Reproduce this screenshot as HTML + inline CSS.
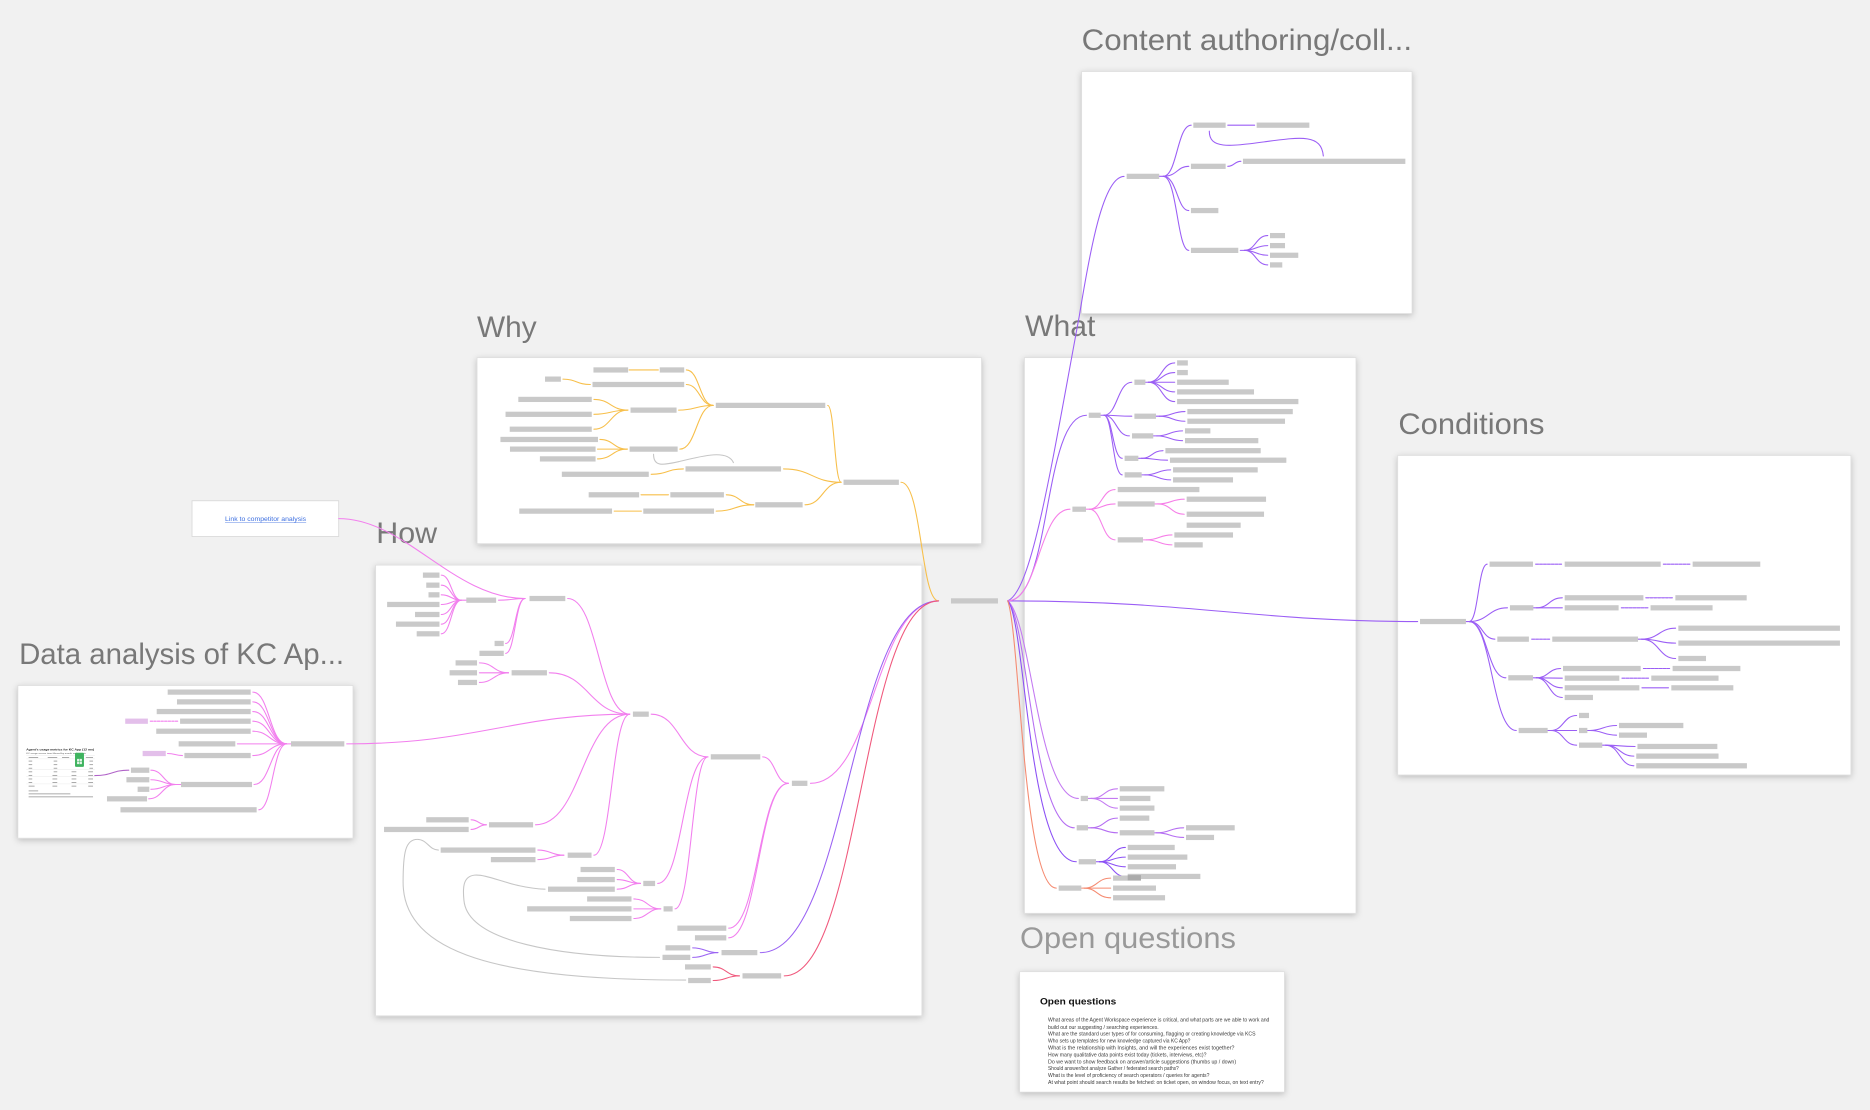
<!DOCTYPE html>
<html><head><meta charset="utf-8"><style>
html,body{margin:0;padding:0;background:#f1f1f1;overflow:hidden;}
svg{display:block}
</style></head><body>
<svg width="1870" height="1110" viewBox="0 0 1568 931" preserveAspectRatio="none" xmlns="http://www.w3.org/2000/svg">
<defs>
<filter id="sh" x="-10%" y="-10%" width="120%" height="125%"><feDropShadow dx="0" dy="1.5" stdDeviation="2.6" flood-color="#000" flood-opacity="0.22"/></filter>
</defs>
<rect width="1568" height="931" fill="#f1f1f1"/>

<!-- Titles -->
<g font-family="'Liberation Sans', sans-serif" font-size="25" fill="#787878">
<text x="907" y="42" textLength="277" lengthAdjust="spacingAndGlyphs">Content authoring/coll...</text>
<text x="400" y="282.6" textLength="50" lengthAdjust="spacingAndGlyphs">Why</text>
<text x="315.5" y="455.3" textLength="51" lengthAdjust="spacingAndGlyphs">How</text>
<text x="859.5" y="281.7" textLength="59" lengthAdjust="spacingAndGlyphs">What</text>
<text x="1172.5" y="364" textLength="122.5" lengthAdjust="spacingAndGlyphs">Conditions</text>
<text x="16" y="556.8" textLength="272.5" lengthAdjust="spacingAndGlyphs">Data analysis of KC Ap...</text>
<text x="855.3" y="795.2" textLength="181" lengthAdjust="spacingAndGlyphs" fill="#999">Open questions</text>
</g>

<!-- Frames -->
<g fill="#fff" stroke="#dcdcdc" stroke-width="0.6" filter="url(#sh)">
<rect x="907" y="60" width="277" height="203"/>
<rect x="400" y="300" width="423" height="156"/>
<rect x="859" y="300" width="278" height="466"/>
<rect x="1172" y="382" width="380" height="268"/>
<rect x="315" y="474" width="458" height="378"/>
<rect x="15" y="575" width="281" height="128"/>
<rect x="855" y="815" width="222" height="101"/>
</g>
<rect x="161" y="420" width="123" height="30" fill="#fff" stroke="#d8d8d8" stroke-width="0.7"/>
<text x="188.7" y="437" font-family="'Liberation Sans', sans-serif" font-size="5.5" fill="#3d6fe0" textLength="68" lengthAdjust="spacingAndGlyphs">Link to competitor analysis</text>
<line x1="188.7" y1="438.4" x2="256.7" y2="438.4" stroke="#3d6fe0" stroke-width="0.35"/>

<!-- Open questions content -->
<g font-family="'Liberation Sans', sans-serif" fill="#3a3a3a">
<text x="872" y="842.5" font-size="7.4" font-weight="bold" fill="#111" textLength="64" lengthAdjust="spacingAndGlyphs">Open questions</text>
<g font-size="4.3">
<text x="878.8" y="856.8" textLength="185.6" lengthAdjust="spacingAndGlyphs">What areas of the Agent Workspace experience is critical, and what parts are we able to work and</text>
<text x="878.8" y="862.9" textLength="92.8" lengthAdjust="spacingAndGlyphs">build out our suggesting / searching experiences.</text>
<text x="878.8" y="868.5" textLength="174" lengthAdjust="spacingAndGlyphs">What are the standard user types of for consuming, flagging or creating knowledge via KCS</text>
<text x="878.8" y="874.4" textLength="119.4" lengthAdjust="spacingAndGlyphs">Who sets up templates for new knowledge captured via KC App?</text>
<text x="878.8" y="880.3" textLength="156.3" lengthAdjust="spacingAndGlyphs">What is the relationship with Insights, and will the experiences exist together?</text>
<text x="878.8" y="886.1" textLength="132.8" lengthAdjust="spacingAndGlyphs">How many qualitative data points exist today (tickets, interviews, etc)?</text>
<text x="878.8" y="892" textLength="157.7" lengthAdjust="spacingAndGlyphs">Do we want to show feedback on answer/article suggestions (thumbs up / down)</text>
<text x="878.8" y="897.6" textLength="109.6" lengthAdjust="spacingAndGlyphs">Should answer/bot analyze Gather / federated search paths?</text>
<text x="878.8" y="903.5" textLength="135.3" lengthAdjust="spacingAndGlyphs">What is the level of proficiency of search operators / queries for agents?</text>
<text x="878.8" y="909.3" textLength="180.9" lengthAdjust="spacingAndGlyphs">At what point should search results be fetched: on ticket open, on window focus, on text entry?</text>
</g>
</g>

<!-- Spreadsheet thumbnail -->
<g>
<text x="22" y="629.6" font-family="'Liberation Sans', sans-serif" font-size="2.4" font-weight="bold" fill="#222" textLength="57" lengthAdjust="spacingAndGlyphs">Agent's usage metrics for KC App (12 mo)</text>
<text x="22" y="632.6" font-family="'Liberation Sans', sans-serif" font-size="1.7" fill="#555" textLength="50" lengthAdjust="spacingAndGlyphs">KC usage across time filtered by month and agents</text>
<g fill="#9a9a9a">
<rect x="24" y="635" width="8" height="0.7"/><rect x="40" y="635" width="8" height="0.7"/><rect x="52" y="635" width="6" height="0.7"/><rect x="72" y="635" width="6" height="0.7"/>
<rect x="24" y="638" width="3" height="0.7"/><rect x="45" y="638" width="3" height="0.7"/><rect x="75" y="638" width="3" height="0.7"/>
<rect x="24" y="641" width="3" height="0.7"/><rect x="45" y="641" width="3" height="0.7"/><rect x="75" y="641" width="3" height="0.7"/>
<rect x="24" y="644" width="3" height="0.7"/><rect x="45" y="644" width="3" height="0.7"/><rect x="75" y="644" width="3" height="0.7"/>
<rect x="24" y="647" width="3" height="0.7"/><rect x="45" y="647" width="3" height="0.7"/><rect x="60" y="647" width="4" height="0.7"/><rect x="74" y="647" width="4" height="0.7"/>
<rect x="24" y="650" width="3" height="0.7"/><rect x="44" y="650" width="4" height="0.7"/><rect x="60" y="650" width="4" height="0.7"/><rect x="74" y="650" width="4" height="0.7"/>
<rect x="24" y="653" width="3" height="0.7"/><rect x="44" y="653" width="4" height="0.7"/><rect x="60" y="653" width="4" height="0.7"/><rect x="74" y="653" width="4" height="0.7"/>
<rect x="24" y="656" width="3" height="0.7"/><rect x="44" y="656" width="4" height="0.7"/><rect x="60" y="656" width="4" height="0.7"/><rect x="74" y="656" width="4" height="0.7"/>
<rect x="24" y="659" width="5" height="0.7"/><rect x="44" y="659" width="4" height="0.7"/><rect x="60" y="659" width="4" height="0.7"/><rect x="74" y="659" width="4" height="0.7"/>
<rect x="24" y="663" width="8" height="0.7"/>
<rect x="24" y="665.5" width="35" height="0.7"/>
<rect x="24" y="668" width="54" height="0.7"/>
</g>
<g stroke="#e2e2e2" stroke-width="0.3">
<line x1="22" y1="633.8" x2="79.5" y2="633.8"/><line x1="22" y1="636.5" x2="79.5" y2="636.5"/>
<line x1="22" y1="645.5" x2="79.5" y2="645.5"/><line x1="22" y1="651.5" x2="79.5" y2="651.5"/>
<line x1="22" y1="657.5" x2="79.5" y2="657.5"/>
</g>
<rect x="62.9" y="631.4" width="7.5" height="11.8" rx="0.8" fill="#3fb35f"/>
<rect x="64.6" y="636.5" width="4.1" height="4.4" fill="#fff" opacity="0.85"/>
<line x1="64.6" y1="638.7" x2="68.7" y2="638.7" stroke="#3fb35f" stroke-width="0.4"/>
<line x1="66.6" y1="636.5" x2="66.6" y2="640.9" stroke="#3fb35f" stroke-width="0.4"/>
</g>

<!-- Connector lines -->
<g fill="none" stroke-width="0.9" stroke-linecap="round">
<!-- Why (yellow) -->
<g stroke="#f7bf4a">
<path d="M527.5 310.3 L552 310.3"/>
<path d="M472 318 C483.5 318 483.5 322.5 495 322.5"/>
<path d="M498 335 C512 335 512 344 526.5 344"/>
<path d="M498 347.5 C512 347.5 512 344 526.5 344"/>
<path d="M498 360 C512 360 512 344 526.5 344"/>
<path d="M569 344 C583.5 344 583.5 340 598 340"/>
<path d="M503 368.6 C514.5 368.6 514.5 376.7 526 376.7"/>
<path d="M501 376.7 L526 376.7"/>
<path d="M501 384.9 C513.5 384.9 513.5 376.7 526 376.7"/>
<path d="M570 376.7 C584 376.7 584 340 598 340"/>
<path d="M575.5 310.3 C586.7 310.3 586.7 340 598 340"/>
<path d="M575.5 322.5 C586.7 322.5 586.7 340 598 340"/>
<path d="M694 340 C699.7 340 699.7 404.5 705.3 404.5"/>
<path d="M546 397.8 C559.5 397.8 559.5 393.3 573 393.3"/>
<path d="M657 393.3 C681 393.3 681 404.5 705.3 404.5"/>
<path d="M537.5 415 L560.5 415"/>
<path d="M515 428.7 L537.8 428.7"/>
<path d="M609 415 C620.5 415 620.5 423.4 632 423.4"/>
<path d="M600.5 428.7 C616 428.7 616 423.4 632 423.4"/>
<path d="M675 423.4 C690 423.4 690 404.5 705.3 404.5"/>
<path d="M755.5 404.5 C773 404.5 772 504 787 504"/>
</g>
<!-- Gray loops -->
<g stroke="#c6c6c6">
<path d="M548 381 C548 392 556 390 570 387 C590 382 610 377 615 388"/>
<path d="M367.6 713 C360 713 358 704 350 704 C340 704 338 715 338 740 C338 800 420 822 575 822"/>
<path d="M457 745.8 C430 745 410 733 398 734 C388 735 388 745 389 755 C392 790 470 803 553 803"/>
</g>
<!-- How & Data (pink) -->
<g stroke="#f27fee">
<path d="M370 482.4 C378.4 482.4 378.4 503.4 386.8 503.4"/>
<path d="M370 490.8 C378.4 490.8 378.4 503.4 386.8 503.4"/>
<path d="M370 498.9 C378.4 498.9 378.4 503.4 386.8 503.4"/>
<path d="M370 507 C378.4 507 378.4 503.4 386.8 503.4"/>
<path d="M370 515.4 C378.4 515.4 378.4 503.4 386.8 503.4"/>
<path d="M370 523.5 C378.4 523.5 378.4 503.4 386.8 503.4"/>
<path d="M370 531.6 C378.4 531.6 378.4 503.4 386.8 503.4"/>
<path d="M386.8 503.4 L391 503.4"/>
<path d="M418 503.4 C429 503.4 429 502 440.3 502"/>
<path d="M424 539.7 C432 539.7 432 502 440.3 502"/>
<path d="M424 548 C432 548 432 502 440.3 502"/>
<path d="M284 435 C340 435 380 502 440.3 502"/>
<path d="M476 502 C502 502 502 599 528 599"/>
<path d="M402 556 C414 556 414 564.3 426.4 564.3"/>
<path d="M402 564.3 L426.4 564.3"/>
<path d="M402 572.4 C414 572.4 414 564.3 426.4 564.3"/>
<path d="M460.6 564.3 C494 564.3 494 599 528 599"/>
<path d="M290.7 623.9 C400 623.9 430 599 528 599"/>
<path d="M395 687.6 C401.4 687.6 401.4 691.8 407.8 691.8"/>
<path d="M395 695.7 C401.4 695.7 401.4 691.8 407.8 691.8"/>
<path d="M449 691.8 C488 691.8 488 599 528 599"/>
<path d="M451 713 C462 713 462 717.3 472.8 717.3"/>
<path d="M451 721 C462 721 462 717.3 472.8 717.3"/>
<path d="M498 717.3 C513 717.3 513 599 528 599"/>
<path d="M546 599 C570 599 570 634.8 593.6 634.8"/>
<path d="M517.5 729.3 C527 729.3 527 741 537 741"/>
<path d="M517.5 737.7 C527 737.7 527 741 537 741"/>
<path d="M517.5 745.8 C527 745.8 527 741 537 741"/>
<path d="M551.5 741 C572.5 741 572.5 634.8 593.6 634.8"/>
<path d="M531.5 754 C543 754 543 762.3 554 762.3"/>
<path d="M531.5 762.3 L554 762.3"/>
<path d="M531.5 770.4 C543 770.4 543 762.3 554 762.3"/>
<path d="M566 762.3 C580 762.3 580 634.8 593.6 634.8"/>
<path d="M639.5 634.8 C650 634.8 650 657 661 657"/>
<path d="M611 778.5 C636 778.5 636 657 661 657"/>
<path d="M611 786.6 C636 786.6 636 657 661 657"/>
<path d="M679.6 657 C733 657 733 504 787 504"/>
<!-- Data -->
<path d="M212 580.5 C226 580.5 226 623.9 240.4 623.9"/>
<path d="M212 588.7 C226 588.7 226 623.9 240.4 623.9"/>
<path d="M212 596.8 C226 596.8 226 623.9 240.4 623.9"/>
<path d="M212 604.9 C226 604.9 226 623.9 240.4 623.9"/>
<path d="M212 613.3 C226 613.3 226 623.9 240.4 623.9"/>
<path d="M199 623.9 L244 623.9"/>
<path d="M212 633.7 C226 633.7 226 623.9 240.4 623.9"/>
<path d="M213 658 C226.7 658 226.7 623.9 240.4 623.9"/>
<path d="M217 679.2 C228.7 679.2 228.7 623.9 240.4 623.9"/>
<path d="M126 604.9 L149 604.9" stroke-dasharray="2 1"/>
<path d="M140.5 632 C146.8 632 146.8 633.7 153 633.7"/>
<path d="M126.5 646 C137 646 137 658 147.3 658"/>
<path d="M126.5 654 C137 654 137 658 147.3 658"/>
<path d="M126.5 662 C137 662 137 658 147.3 658"/>
<path d="M124.7 670 C136 670 136 658 147.3 658"/>
<path d="M147.3 658 L151.8 658"/>
</g>
<path d="M79.5 650.5 C94 650.5 94 646 108 646" stroke="#b062c8"/>
<!-- How purple & red -->
<g stroke="#9a62f3">
<path d="M580.8 795 C591.4 795 591.4 799 602 799"/>
<path d="M580.8 803 C591.4 803 591.4 799 602 799"/>
<path d="M637.5 799 C712 799 712 504 787 504"/>
</g>
<g stroke="#f0587c">
<path d="M598 811 C609 811 609 818.5 620 818.5"/>
<path d="M598 822.4 C609 822.4 609 818.5 620 818.5"/>
<path d="M657.6 818.5 C722 818.5 722 504 787 504"/>
</g>
<!-- Content / What / Conditions (purple) -->
<g stroke="#9b5ef5">
<path d="M845 504 C865 495 880 400 905 265 C914 210 925 148 942.5 148"/>
<path d="M972 147.9 L975.4 147.9"/>
<path d="M975.4 147.9 C987 147.9 987 105 998.8 105"/>
<path d="M975.4 147.9 C987 147.9 987 139.5 996.8 139.5"/>
<path d="M975.4 147.9 C987 147.9 987 176.6 996.8 176.6"/>
<path d="M975.4 147.9 C987 147.9 987 210 996.8 210"/>
<path d="M1029.5 105 L1052 105"/>
<path d="M1029.5 139.5 C1035 139.5 1035 135.3 1040.5 135.3"/>
<path d="M1014 110 C1014 125 1030 123 1060 119 C1090 115 1108 112 1109.6 130.8"/>
<path d="M1040 210 L1043.4 210"/>
<path d="M1043.4 210 C1053 210 1053 197.6 1063 197.6"/>
<path d="M1043.4 210 C1053 210 1053 206 1063 206"/>
<path d="M1043.4 210 C1053 210 1053 214.1 1063 214.1"/>
<path d="M1043.4 210 C1053 210 1053 222.2 1063 222.2"/>
<!-- What top -->
<path d="M845 504 C882 504 874 348.3 911 348.3"/>
<path d="M922.9 348.3 L925.7 348.3"/>
<path d="M925.7 348.3 C937 348.3 937 320.6 949 320.6"/>
<path d="M925.7 348.3 C937 348.3 937 349.1 949 349.1"/>
<path d="M925.7 348.3 C936 348.3 936 365.6 947 365.6"/>
<path d="M925.7 348.3 C933 348.3 933 384.4 941 384.4"/>
<path d="M925.7 348.3 C933 348.3 933 398.3 941 398.3"/>
<path d="M960.4 320.6 L962.9 320.6"/>
<path d="M962.9 320.6 C974 320.6 974 304.4 985 304.4"/>
<path d="M962.9 320.6 C974 320.6 974 312.5 985 312.5"/>
<path d="M962.9 320.6 L985 320.6"/>
<path d="M962.9 320.6 C974 320.6 974 328.7 985 328.7"/>
<path d="M962.9 320.6 C974 320.6 974 336.8 985 336.8"/>
<path d="M969.3 349.1 L972 349.1"/>
<path d="M972 349.1 C982.8 349.1 982.8 345.2 993.6 345.2"/>
<path d="M972 349.1 C982.8 349.1 982.8 353.3 993.6 353.3"/>
<path d="M967 365.6 L970 365.6"/>
<path d="M970 365.6 C980.8 365.6 980.8 361.4 991.6 361.4"/>
<path d="M970 365.6 C980.8 365.6 980.8 369.6 991.6 369.6"/>
<path d="M954.5 384.4 L957.3 384.4"/>
<path d="M957.3 384.4 C966 384.4 966 378 975.2 378"/>
<path d="M957.3 384.4 C968 384.4 968 386 979 386"/>
<path d="M957.3 398.3 L960 398.3"/>
<path d="M960 398.3 C970.8 398.3 970.8 394.1 981.6 394.1"/>
<path d="M960 398.3 C970.8 398.3 970.8 402.5 981.6 402.5"/>
<!-- Conditions -->
<path d="M845 504 C1000 504 1050 521.3 1188.7 521.3"/>
<path d="M1229.2 521.3 L1232 521.3"/>
<path d="M1232 521.3 C1239.5 521.3 1239.5 473.2 1247 473.2"/>
<path d="M1232 521.3 C1248 521.3 1248 509.8 1264 509.8"/>
<path d="M1232 521.3 C1243 521.3 1243 536.1 1253.5 536.1"/>
<path d="M1232 521.3 C1247 521.3 1247 568.5 1262.7 568.5"/>
<path d="M1232 521.3 C1251 521.3 1251 612.7 1271.4 612.7"/>
<path d="M1287.6 473.2 L1309.4 473.2" stroke-dasharray="2.5 0.8"/>
<path d="M1394.7 473.2 L1417 473.2" stroke-dasharray="2.5 0.8"/>
<path d="M1285.7 509.8 L1288.5 509.8"/>
<path d="M1288.5 509.8 C1299 509.8 1299 501.4 1310 501.4"/>
<path d="M1288.5 509.8 L1310 509.8"/>
<path d="M1380 501.4 L1402.5 501.4" stroke-dasharray="2.5 0.8"/>
<path d="M1359.5 509.8 L1382 509.8" stroke-dasharray="2.5 0.8"/>
<path d="M1284.3 536.1 L1299.4 536.1" stroke-dasharray="2.5 0.8"/>
<path d="M1373.5 536.1 L1376.5 536.1"/>
<path d="M1376.5 536.1 C1391 536.1 1391 526.9 1405 526.9"/>
<path d="M1376.5 536.1 C1391 536.1 1391 539.4 1405 539.4"/>
<path d="M1376.5 536.1 C1391 536.1 1391 552.3 1405 552.3"/>
<path d="M1285.4 568.5 L1288.2 568.5"/>
<path d="M1288.2 568.5 C1298.4 568.5 1298.4 560.7 1308.6 560.7"/>
<path d="M1288.2 568.5 L1310 568.8"/>
<path d="M1288.2 568.5 C1299 568.5 1299 576.9 1310 576.9"/>
<path d="M1288.2 568.5 C1299 568.5 1299 585 1310 585"/>
<path d="M1378 560.7 L1400 560.7" stroke-dasharray="2.5 0.8"/>
<path d="M1360 568.8 L1382.5 568.8" stroke-dasharray="2.5 0.8"/>
<path d="M1376.8 576.9 L1399 576.9"/>
<path d="M1297.7 612.7 L1300.5 612.7"/>
<path d="M1300.5 612.7 C1311 612.7 1311 600.1 1322 600.1"/>
<path d="M1300.5 612.7 L1322 612.7"/>
<path d="M1300.5 612.7 C1311 612.7 1311 625 1322 625"/>
<path d="M1331 612.7 L1333.2 612.7"/>
<path d="M1333.2 612.7 C1344 612.7 1344 608.5 1355.5 608.5"/>
<path d="M1333.2 612.7 C1344 612.7 1344 616.6 1355.5 616.6"/>
<path d="M1343.5 625 L1346.3 625"/>
<path d="M1346.3 625 C1358 625 1358 626.1 1371 626.1"/>
<path d="M1346.3 625 C1358 625 1358 634.2 1370 634.2"/>
<path d="M1346.3 625 C1358 625 1358 642.3 1370 642.3"/>
</g>
<!-- What pink -->
<g stroke="#f67fe8">
<path d="M845 504 C871 504 871 427.1 897.2 427.1"/>
<path d="M910.6 427.1 L913.4 427.1"/>
<path d="M913.4 427.1 C924 427.1 924 410.6 935 410.6"/>
<path d="M913.4 427.1 C924 427.1 924 422.7 935 422.7"/>
<path d="M913.4 427.1 C924 427.1 924 452.8 935 452.8"/>
<path d="M968.2 422.7 L970.7 422.7"/>
<path d="M970.7 422.7 C982 422.7 982 418.7 993 418.7"/>
<path d="M970.7 422.7 C982 422.7 982 431.3 993 431.3"/>
<path d="M958.4 452.8 L961 452.8"/>
<path d="M961 452.8 C972 452.8 972 448.7 982.7 448.7"/>
<path d="M961 452.8 C972 452.8 972 457 982.7 457"/>
</g>
<!-- What bottom -->
<g stroke="#c47af2">
<path d="M845 504 C865 520 870 669.7 904.2 669.7"/>
<path d="M912.3 669.7 L914.8 669.7"/>
<path d="M914.8 669.7 C926 669.7 926 661.6 937 661.6"/>
<path d="M914.8 669.7 L937 669.7"/>
<path d="M914.8 669.7 C926 669.7 926 677.8 937 677.8"/>
</g>
<g stroke="#b56ef2">
<path d="M845 504 C862 520 866 694.3 900.8 694.3"/>
<path d="M912.3 694.3 L914.8 694.3"/>
<path d="M914.8 694.3 C926 694.3 926 686.2 937 686.2"/>
<path d="M914.8 694.3 C926 694.3 926 698.5 937 698.5"/>
<path d="M968 698.5 L969.9 698.5"/>
<path d="M969.9 698.5 C981 698.5 981 694.3 992.5 694.3"/>
<path d="M969.9 698.5 C981 698.5 981 702.4 992.5 702.4"/>
</g>
<g stroke="#8b4ff5">
<path d="M845 504 C860 520 862 722.8 902.5 722.8"/>
<path d="M919 722.8 L921.8 722.8"/>
<path d="M921.8 722.8 C932.7 722.8 932.7 710.8 943.6 710.8"/>
<path d="M921.8 722.8 C932.7 722.8 932.7 718.9 943.6 718.9"/>
<path d="M921.8 722.8 C932.7 722.8 932.7 727 943.6 727"/>
<path d="M921.8 722.8 C932.7 722.8 932.7 735.1 943.6 735.1"/>
</g>
<g stroke="#f58a70">
<path d="M845 504 C855 530 858 744.9 885.7 744.9"/>
<path d="M906.7 744.9 L909 744.9"/>
<path d="M909 744.9 C920 744.9 920 736.5 931.3 736.5"/>
<path d="M909 744.9 L931.3 744.9"/>
<path d="M909 744.9 C920 744.9 920 753 931.3 753"/>
</g>
</g>

<!-- Node bars -->
<g fill="#c9c9c9">
<!-- center -->
<rect x="797.4" y="501.8" width="39.4" height="4.4"/>
<!-- Why -->
<rect x="497.6" y="308.1" width="29.1" height="4.4"/>
<rect x="553.2" y="308.1" width="20.5" height="4.4"/>
<rect x="457" y="315.8" width="13.3" height="4.4"/>
<rect x="496.8" y="320.3" width="76.9" height="4.4"/>
<rect x="434.6" y="332.8" width="61.6" height="4.4"/>
<rect x="423.9" y="345.3" width="72.3" height="4.4"/>
<rect x="427.4" y="357.8" width="68.8" height="4.4"/>
<rect x="528.7" y="341.8" width="38.6" height="4.4"/>
<rect x="419.6" y="366.4" width="81.8" height="4.4"/>
<rect x="427.6" y="374.5" width="71.8" height="4.4"/>
<rect x="452.7" y="382.7" width="46.7" height="4.4"/>
<rect x="527.9" y="374.5" width="40.3" height="4.4"/>
<rect x="600.2" y="337.8" width="91.8" height="4.4"/>
<rect x="471.1" y="395.6" width="72.9" height="4.4"/>
<rect x="574.8" y="391.1" width="80.1" height="4.4"/>
<rect x="707.3" y="402.3" width="46.4" height="4.4"/>
<rect x="493.6" y="412.8" width="42.3" height="4.4"/>
<rect x="562.1" y="412.8" width="44.9" height="4.4"/>
<rect x="435.4" y="426.5" width="77.8" height="4.4"/>
<rect x="539.4" y="426.5" width="59.3" height="4.4"/>
<rect x="633.3" y="421.2" width="39.7" height="4.4"/>
<!-- How -->
<rect x="354.6" y="480.2" width="13.9" height="4.4"/>
<rect x="357.4" y="488.6" width="11.1" height="4.4"/>
<rect x="359.3" y="496.7" width="9.2" height="4.4"/>
<rect x="324.6" y="504.8" width="43.9" height="4.4"/>
<rect x="348" y="513.2" width="20.5" height="4.4"/>
<rect x="332" y="521.3" width="36.5" height="4.4"/>
<rect x="349.4" y="529.4" width="19.1" height="4.4"/>
<rect x="391" y="501.2" width="25" height="4.4"/>
<rect x="444" y="499.8" width="30" height="4.4"/>
<rect x="414.7" y="537.5" width="7.7" height="4.4"/>
<rect x="402" y="545.8" width="20.4" height="4.4"/>
<rect x="382" y="553.8" width="18" height="4.4"/>
<rect x="377" y="562.1" width="23" height="4.4"/>
<rect x="384" y="570.2" width="16" height="4.4"/>
<rect x="429" y="562.1" width="29.6" height="4.4"/>
<rect x="530.7" y="596.8" width="13.3" height="4.4"/>
<rect x="596" y="632.6" width="41.5" height="4.4"/>
<rect x="664" y="654.8" width="13" height="4.4"/>
<rect x="357.4" y="685.4" width="35.6" height="4.4"/>
<rect x="322" y="693.5" width="71" height="4.4"/>
<rect x="410" y="689.6" width="37" height="4.4"/>
<rect x="369.5" y="710.8" width="79.5" height="4.4"/>
<rect x="411.6" y="718.8" width="37.4" height="4.4"/>
<rect x="476" y="715.1" width="20" height="4.4"/>
<rect x="486.8" y="727.1" width="28.7" height="4.4"/>
<rect x="484" y="735.5" width="31.5" height="4.4"/>
<rect x="459.5" y="743.6" width="56" height="4.4"/>
<rect x="539.4" y="738.8" width="9.9" height="4.4"/>
<rect x="492.3" y="751.8" width="37.2" height="4.4"/>
<rect x="442" y="760.1" width="87.5" height="4.4"/>
<rect x="477.8" y="768.2" width="51.7" height="4.4"/>
<rect x="556.4" y="760.1" width="7.6" height="4.4"/>
<rect x="568" y="776.3" width="41" height="4.4"/>
<rect x="582.7" y="784.4" width="26.3" height="4.4"/>
<rect x="558" y="792.8" width="20.8" height="4.4"/>
<rect x="555.5" y="800.8" width="23.3" height="4.4"/>
<rect x="605" y="796.8" width="30" height="4.4"/>
<rect x="574.4" y="808.8" width="21.6" height="4.4"/>
<rect x="577" y="820.2" width="19" height="4.4"/>
<rect x="622.6" y="816.3" width="32.4" height="4.4"/>
<!-- Data -->
<rect x="140.6" y="578.3" width="69.6" height="4.4"/>
<rect x="148.4" y="586.5" width="61.8" height="4.4"/>
<rect x="131.4" y="594.6" width="78.8" height="4.4"/>
<rect x="151" y="602.7" width="59.2" height="4.4"/>
<rect x="131" y="611.1" width="79.2" height="4.4"/>
<rect x="149.8" y="621.7" width="47.5" height="4.4"/>
<rect x="154.6" y="631.5" width="55.6" height="4.4"/>
<rect x="109.8" y="643.8" width="15.4" height="4.4"/>
<rect x="106" y="651.8" width="19.2" height="4.4"/>
<rect x="115.4" y="659.8" width="9.8" height="4.4"/>
<rect x="89.7" y="667.8" width="33.6" height="4.4"/>
<rect x="151.8" y="655.8" width="59.5" height="4.4"/>
<rect x="101" y="677" width="114.2" height="4.4"/>
<rect x="244" y="621.7" width="44.7" height="4.4"/>
<!-- Content -->
<rect x="944.7" y="145.7" width="27.3" height="4.4"/>
<rect x="1000.6" y="102.8" width="27.1" height="4.4"/>
<rect x="1053.7" y="102.8" width="44.2" height="4.4"/>
<rect x="998.6" y="137.3" width="29.1" height="4.4"/>
<rect x="1042.2" y="133.1" width="136.2" height="4.4"/>
<rect x="998.6" y="174.4" width="23" height="4.4"/>
<rect x="998.6" y="207.8" width="39.7" height="4.4"/>
<rect x="1064.9" y="195.4" width="12.6" height="4.4"/>
<rect x="1064.9" y="203.8" width="12.6" height="4.4"/>
<rect x="1064.9" y="211.9" width="23.7" height="4.4"/>
<rect x="1064.9" y="220" width="10.3" height="4.4"/>
<!-- What -->
<rect x="912.9" y="346.1" width="10" height="4.4"/>
<rect x="951.2" y="318.4" width="9.2" height="4.4"/>
<rect x="987" y="302.2" width="9" height="4.4"/>
<rect x="987" y="310.3" width="9" height="4.4"/>
<rect x="987" y="318.4" width="43.3" height="4.4"/>
<rect x="987" y="326.5" width="64.5" height="4.4"/>
<rect x="987" y="334.6" width="101.7" height="4.4"/>
<rect x="951.2" y="346.9" width="18.1" height="4.4"/>
<rect x="995.6" y="343" width="88.4" height="4.4"/>
<rect x="995.6" y="351.1" width="81.9" height="4.4"/>
<rect x="949.2" y="363.4" width="17.8" height="4.4"/>
<rect x="993.6" y="359.2" width="21.3" height="4.4"/>
<rect x="993.6" y="367.4" width="61.5" height="4.4"/>
<rect x="943" y="382.2" width="11.5" height="4.4"/>
<rect x="977.2" y="375.8" width="79.9" height="4.4"/>
<rect x="981" y="383.8" width="97.6" height="4.4"/>
<rect x="943" y="396.1" width="14.3" height="4.4"/>
<rect x="983.6" y="391.9" width="71" height="4.4"/>
<rect x="983.6" y="400.3" width="50.3" height="4.4"/>
<rect x="899.2" y="424.9" width="11.4" height="4.4"/>
<rect x="937.2" y="408.4" width="68.5" height="4.4"/>
<rect x="937.2" y="420.5" width="31" height="4.4"/>
<rect x="995" y="416.5" width="66.6" height="4.4"/>
<rect x="995" y="429.1" width="64.9" height="4.4"/>
<rect x="995" y="438.3" width="45.3" height="4.4"/>
<rect x="937.2" y="450.6" width="21.2" height="4.4"/>
<rect x="984.7" y="446.5" width="49.2" height="4.4"/>
<rect x="984.7" y="454.8" width="23.8" height="4.4"/>
<rect x="906.2" y="667.5" width="6.1" height="4.4"/>
<rect x="938.9" y="659.4" width="37.4" height="4.4"/>
<rect x="938.9" y="667.5" width="25.7" height="4.4"/>
<rect x="938.9" y="675.6" width="29.1" height="4.4"/>
<rect x="902.8" y="692.1" width="9.5" height="4.4"/>
<rect x="938.9" y="684" width="24.8" height="4.4"/>
<rect x="938.9" y="696.3" width="29.1" height="4.4"/>
<rect x="994.5" y="692.1" width="40.8" height="4.4"/>
<rect x="994.5" y="700.2" width="23.5" height="4.4"/>
<rect x="904.5" y="720.6" width="14.5" height="4.4"/>
<rect x="945.6" y="708.6" width="39.4" height="4.4"/>
<rect x="945.6" y="716.7" width="50" height="4.4"/>
<rect x="945.6" y="724.8" width="40.5" height="4.4"/>
<rect x="945.6" y="732.9" width="60.9" height="4.4"/>
<rect x="887.7" y="742.7" width="19" height="4.4"/>
<rect x="933.3" y="734.3" width="23.4" height="4.4"/>
<rect x="933.3" y="742.7" width="36" height="4.4"/>
<rect x="933.3" y="750.8" width="43.6" height="4.4"/>
<!-- Conditions -->
<rect x="1190.7" y="519.1" width="38.5" height="4.4"/>
<rect x="1249" y="471" width="36.4" height="4.4"/>
<rect x="1312" y="471" width="80.5" height="4.4"/>
<rect x="1419.3" y="471" width="56.7" height="4.4"/>
<rect x="1266.1" y="507.6" width="19.6" height="4.4"/>
<rect x="1312" y="499.2" width="66" height="4.4"/>
<rect x="1404.8" y="499.2" width="59.8" height="4.4"/>
<rect x="1312" y="507.6" width="45.2" height="4.4"/>
<rect x="1384" y="507.6" width="52" height="4.4"/>
<rect x="1255.5" y="533.9" width="26.5" height="4.4"/>
<rect x="1301.6" y="533.9" width="71.9" height="4.4"/>
<rect x="1407.3" y="524.7" width="135.5" height="4.4"/>
<rect x="1407.3" y="537.2" width="135.5" height="4.4"/>
<rect x="1407.3" y="550.1" width="23.2" height="4.4"/>
<rect x="1264.7" y="566.3" width="20.7" height="4.4"/>
<rect x="1310.6" y="558.5" width="65.1" height="4.4"/>
<rect x="1402.5" y="558.5" width="56.8" height="4.4"/>
<rect x="1312" y="566.6" width="45.8" height="4.4"/>
<rect x="1384.6" y="566.6" width="56.4" height="4.4"/>
<rect x="1312" y="574.7" width="62.6" height="4.4"/>
<rect x="1401.4" y="574.7" width="52" height="4.4"/>
<rect x="1312" y="582.8" width="23.7" height="4.4"/>
<rect x="1273.4" y="610.5" width="24.3" height="4.4"/>
<rect x="1324" y="597.9" width="8.4" height="4.4"/>
<rect x="1324" y="610.5" width="7" height="4.4"/>
<rect x="1357.5" y="606.3" width="54" height="4.4"/>
<rect x="1357.5" y="614.4" width="23.5" height="4.4"/>
<rect x="1324" y="622.8" width="19.5" height="4.4"/>
<rect x="1373" y="623.9" width="67" height="4.4"/>
<rect x="1372" y="632" width="69" height="4.4"/>
<rect x="1372" y="640.1" width="92.8" height="4.4"/>
</g>
<!-- tinted bars -->
<rect x="105" y="602.7" width="19" height="4.4" fill="#e3bfea"/>
<rect x="119.6" y="629.8" width="19.4" height="4.4" fill="#e3bfea"/>
<rect x="945.6" y="734" width="11.1" height="4.4" fill="#ababab"/>
</svg>
</body></html>
